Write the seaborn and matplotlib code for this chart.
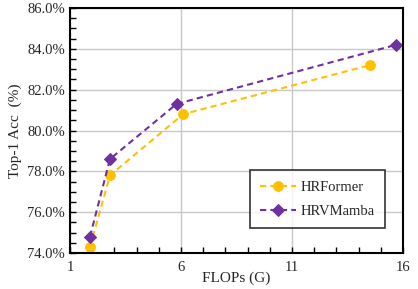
import matplotlib
matplotlib.use("Agg")
import matplotlib.pyplot as plt
import seaborn as sns
import pandas as pd
from matplotlib.ticker import MultipleLocator, FixedLocator, FuncFormatter

models = ["HRFormer", "HRVMamba"]
hrformer_flops = [1.9, 2.8, 6.1, 14.5]
hrformer_acc = [74.3, 77.8, 80.8, 83.2]
hrvmamba_flops = [1.9, 2.8, 5.8, 15.7]
hrvmamba_acc = [74.8, 78.6, 81.3, 84.2]
x_ticks = [1, 6, 11, 16]
colors = {"HRFormer": "#FFC000", "HRVMamba": "#7030A0"}
markers = {"HRFormer": "o", "HRVMamba": "D"}

df = pd.concat([
    pd.DataFrame({"FLOPs": hrformer_flops, "Acc": hrformer_acc, "Model": "HRFormer"}),
    pd.DataFrame({"FLOPs": hrvmamba_flops, "Acc": hrvmamba_acc, "Model": "HRVMamba"}),
])

sns.set_style("white")
plt.rcParams["font.family"] = ["Liberation Serif", "DejaVu Serif"]

fig = plt.figure(figsize=(4.18, 2.89), dpi=100)
ax = fig.add_axes([70/418, 36/289, 333/418, 245/289])

for m in models:
    sub = df[df["Model"] == m]
    sns.lineplot(data=sub, x="FLOPs", y="Acc", ax=ax, color=colors[m], linestyle="--",
                 linewidth=1.5, marker=markers[m], markersize=7 if m == "HRFormer" else 6,
                 markeredgecolor=colors[m], label=m, dashes=False, sort=False)
    ax.lines[-1].set_linestyle((0, (3, 2)))

ax.set_xlim(1, 16)
ax.set_ylim(74, 86)
ax.xaxis.set_major_locator(FixedLocator(x_ticks))
ax.xaxis.set_minor_locator(MultipleLocator(1))
ax.yaxis.set_major_locator(MultipleLocator(2))
ax.yaxis.set_minor_locator(MultipleLocator(0.5))
ax.yaxis.set_major_formatter(FuncFormatter(lambda v, p: f"{v:.1f}%"))
ax.grid(True, which="major", color="#C8C8C8", linewidth=1)
ax.set_axisbelow(True)
ax.tick_params(which="both", direction="in", color="black", labelsize=10.5,
               bottom=True, left=True, top=False, right=False)
ax.tick_params(which="major", length=4, width=1)
ax.tick_params(which="minor", length=4, width=1)
ax.tick_params(axis="x", pad=6)
for s in ax.spines.values():
    s.set_color("black")
    s.set_linewidth(1.5)
ax.set_xlabel("FLOPs (G)", fontsize=11, labelpad=-2)
ax.set_ylabel("Top-1 Acc  (%)", fontsize=11, labelpad=4)

leg = ax.legend(loc="lower right", bbox_to_anchor=(0.946, 0.102), borderaxespad=0,
                frameon=True, fancybox=False, edgecolor="black", fontsize=10.5,
                handlelength=2.5, borderpad=0.7, labelspacing=0.75, handletextpad=0.3)
leg.get_frame().set_linewidth(1.2)

fig.savefig("out.png", dpi=100)
